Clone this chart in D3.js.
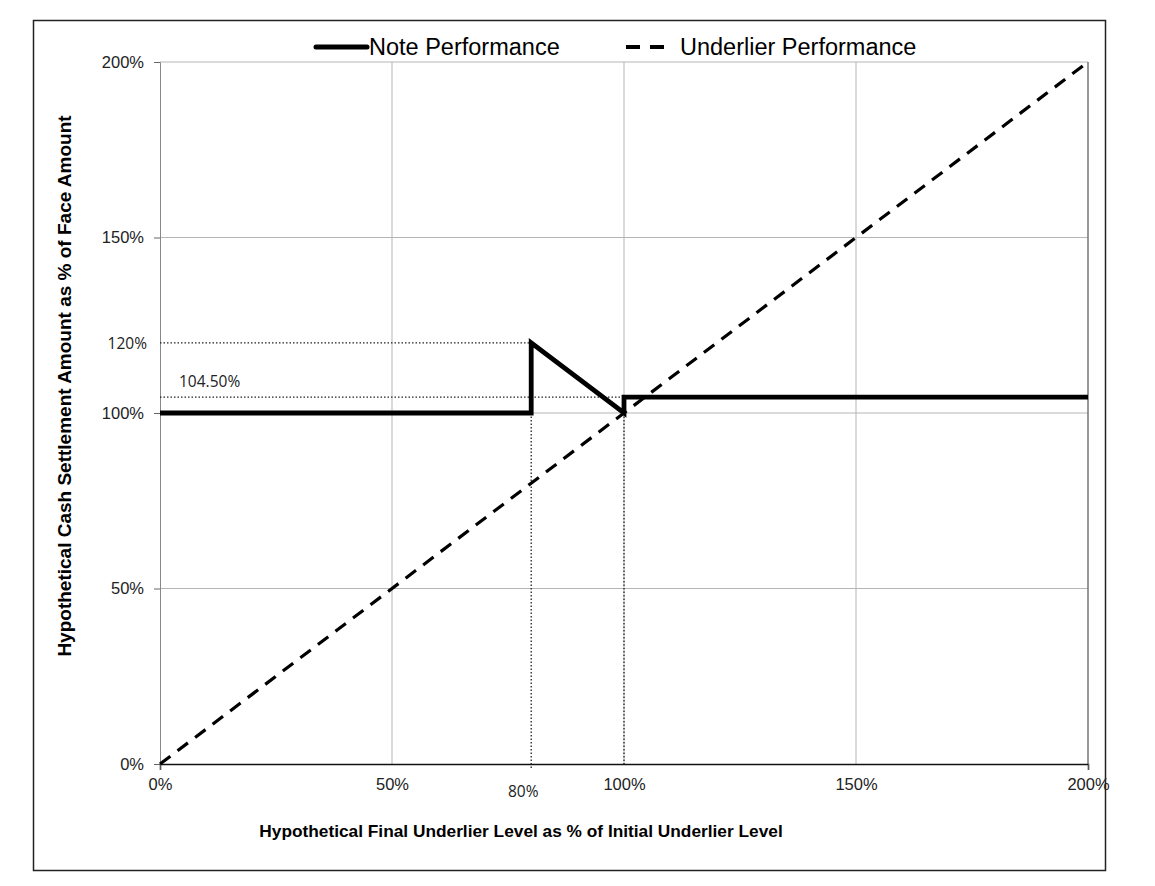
<!DOCTYPE html>
<html>
<head>
<meta charset="utf-8">
<script src="https://cdn.jsdelivr.net/npm/d3@7"></script>
<style>
  body { margin: 0; background: #fff; }
  text { font-family: Arial, "Liberation Sans", sans-serif; }
</style>
</head>
<body>
<div id="chart"></div>
<script>
var width = 1155, height = 886;

// data
var xTicks = [0, 50, 100, 150, 200];
var yTicks = [0, 50, 100, 150, 200];
var noteX = [0, 80, 80, 100, 100, 200];
var noteY = [100, 100, 120, 100, 104.5, 104.5];
var underX = [0, 200];
var underY = [0, 200];
var seriesNames = ["Note Performance", "Underlier Performance"];

var svg = d3.select("#chart").append("svg")
    .attr("width", width)
    .attr("height", height);

// outer frame
svg.append("rect")
    .attr("x", 33.5).attr("y", 20.5)
    .attr("width", 1072).attr("height", 850)
    .attr("fill", "none").attr("stroke", "#222").attr("stroke-width", 1.5);

var x = d3.scaleLinear().domain([0, 200]).range([160, 1088]);
var y = d3.scaleLinear().domain([0, 200]).range([764, 62]);

// gridlines
svg.append("g").selectAll("line").data(xTicks.slice(1)).enter().append("line")
    .attr("x1", function(d) { return x(d); }).attr("x2", function(d) { return x(d); })
    .attr("y1", y(0)).attr("y2", y(200))
    .attr("stroke", "#b5b5b5").attr("stroke-width", 1);
svg.append("g").selectAll("line").data(yTicks.slice(1)).enter().append("line")
    .attr("x1", x(0)).attr("x2", x(200))
    .attr("y1", function(d) { return y(d); }).attr("y2", function(d) { return y(d); })
    .attr("stroke", "#b5b5b5").attr("stroke-width", 1);

// y axis
var yAxis = svg.append("g")
    .attr("transform", "translate(" + x(0) + ",0)")
    .call(d3.axisLeft(y).tickValues(yTicks).tickSize(6).tickPadding(10)
        .tickFormat(function(d) { return d + "%"; }));
yAxis.select(".domain").attr("stroke", "#888");
yAxis.selectAll(".tick line").attr("stroke", "#666");
yAxis.selectAll("text").style("font-size", "16.5px").attr("fill", "#222");

// x axis
var xAxis = svg.append("g")
    .attr("transform", "translate(0," + y(0) + ")")
    .call(d3.axisBottom(x).tickValues(xTicks).tickSize(6).tickPadding(8)
        .tickFormat(function(d) { return d + "%"; }));
xAxis.select(".domain").attr("stroke", "#111").attr("stroke-width", 1.5);
xAxis.selectAll(".tick line").attr("stroke", "#555")
    .attr("opacity", function(d) { return (d === 0 || d === 200) ? 1 : 0; });
xAxis.selectAll("text").style("font-size", "16.5px").attr("fill", "#222");

// right edge
svg.append("line")
    .attr("x1", x(200)).attr("x2", x(200)).attr("y1", y(200)).attr("y2", y(0))
    .attr("stroke", "#555");

// dotted reference lines
var dot = svg.append("g").attr("stroke", "#222").attr("stroke-width", 1.3)
    .attr("stroke-dasharray", "1.5,2");
dot.append("line").attr("x1", x(0)).attr("x2", x(80)).attr("y1", y(120)).attr("y2", y(120));
dot.append("line").attr("x1", x(0)).attr("x2", x(100)).attr("y1", y(104.5)).attr("y2", y(104.5));
dot.append("line").attr("x1", x(80)).attr("x2", x(80)).attr("y1", y(100)).attr("y2", y(0) + 5);
dot.append("line").attr("x1", x(100)).attr("x2", x(100)).attr("y1", y(100)).attr("y2", y(0));

// annotations
svg.append("text").attr("x", x(0) - 13).attr("y", y(120) + 6)
    .attr("text-anchor", "end").style("font-size", "15.5px").attr("fill", "#222")
    .style("font-family", "'Open Sans', sans-serif").text("120%");
svg.append("text").attr("x", 179).attr("y", y(104.5) - 10)
    .style("font-size", "15.5px").attr("fill", "#222")
    .style("font-family", "'Open Sans', sans-serif").text("104.50%");
svg.append("text").attr("x", x(80) - 8).attr("y", y(0) + 33)
    .attr("text-anchor", "middle").style("font-size", "15.5px").attr("fill", "#222")
    .style("font-family", "'Open Sans', sans-serif").text("80%");

var line = d3.line().x(function(d) { return x(d[0]); }).y(function(d) { return y(d[1]); });

// underlier
svg.append("path")
    .datum(d3.zip(underX, underY))
    .attr("d", line)
    .attr("fill", "none").attr("stroke", "#000").attr("stroke-width", 3.2)
    .attr("stroke-dasharray", "13,9");

// note
svg.append("path")
    .datum(d3.zip(noteX, noteY))
    .attr("d", line)
    .attr("fill", "none").attr("stroke", "#000").attr("stroke-width", 4.8)
    .attr("stroke-linejoin", "miter");

// legend
var lg = svg.append("g");
lg.append("line").attr("x1", 316).attr("x2", 367).attr("y1", 47).attr("y2", 47)
    .attr("stroke", "#000").attr("stroke-width", 5).attr("stroke-linecap", "round");
lg.append("text").attr("x", 369).attr("y", 55).style("font-size", "23.5px").text(seriesNames[0]);
lg.append("line").attr("x1", 626).attr("x2", 664).attr("y1", 47).attr("y2", 47)
    .attr("stroke", "#000").attr("stroke-width", 4).attr("stroke-dasharray", "14,10");
lg.append("text").attr("x", 680).attr("y", 55).style("font-size", "23.5px").text(seriesNames[1]);

// axis titles
svg.append("text").attr("x", 521).attr("y", 837).attr("text-anchor", "middle")
    .style("font-size", "17.3px").style("font-weight", "bold")
    .text("Hypothetical Final Underlier Level as % of Initial Underlier Level");
svg.append("text").attr("transform", "translate(71,386) rotate(-90)")
    .attr("text-anchor", "middle")
    .style("font-size", "19px").style("font-weight", "bold")
    .text("Hypothetical Cash Settlement Amount as % of Face Amount");
</script>
</body>
</html>
